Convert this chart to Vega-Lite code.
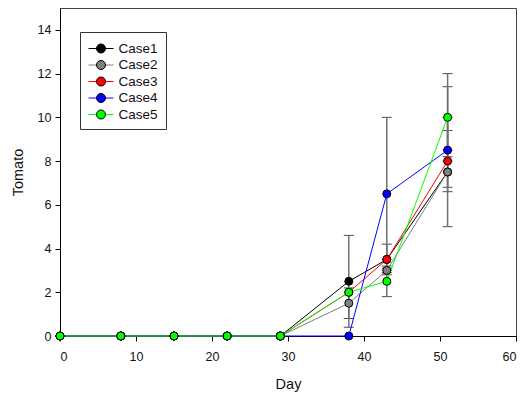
{
  "$schema": "https://vega.github.io/schema/vega-lite/v6.json",
  "width": 456,
  "height": 328,
  "autosize": {"type": "none"},
  "padding": {"left": 60, "top": 8, "right": 14, "bottom": 58},
  "config": {
    "font": "Liberation Sans",
    "view": {"stroke": "#444", "strokeWidth": 1},
    "axis": {
      "grid": false,
      "domainColor": "#000",
      "tickColor": "#000",
      "tickSize": 5,
      "labelFontSize": 12.5,
      "labelColor": "#111",
      "titleFontSize": 14.5,
      "titleFontWeight": "normal",
      "titleColor": "#111",
      "labelFont": "Liberation Sans",
      "titleFont": "Liberation Sans"
    }
  },
  "data": {
    "values": [
      {"day": 0, "case": "Case1", "value": 0},
      {"day": 8, "case": "Case1", "value": 0},
      {"day": 15, "case": "Case1", "value": 0},
      {"day": 22, "case": "Case1", "value": 0},
      {"day": 29, "case": "Case1", "value": 0},
      {"day": 38, "case": "Case1", "value": 2.5, "lo": 0.4, "hi": 4.6},
      {"day": 43, "case": "Case1", "value": 3.5, "lo": 2.8, "hi": 4.2},
      {"day": 51, "case": "Case1", "value": 7.5, "lo": 6.8, "hi": 8.2},
      {"day": 0, "case": "Case2", "value": 0},
      {"day": 8, "case": "Case2", "value": 0},
      {"day": 15, "case": "Case2", "value": 0},
      {"day": 22, "case": "Case2", "value": 0},
      {"day": 29, "case": "Case2", "value": 0},
      {"day": 38, "case": "Case2", "value": 1.5, "lo": 0.8, "hi": 2.2},
      {"day": 43, "case": "Case2", "value": 3.0, "lo": 2.9, "hi": 3.1},
      {"day": 51, "case": "Case2", "value": 7.5, "lo": 5.0, "hi": 10.0},
      {"day": 0, "case": "Case3", "value": 0},
      {"day": 8, "case": "Case3", "value": 0},
      {"day": 15, "case": "Case3", "value": 0},
      {"day": 22, "case": "Case3", "value": 0},
      {"day": 29, "case": "Case3", "value": 0},
      {"day": 38, "case": "Case3", "value": 2.0},
      {"day": 43, "case": "Case3", "value": 3.5},
      {"day": 51, "case": "Case3", "value": 8.0, "lo": 6.6, "hi": 9.4},
      {"day": 0, "case": "Case4", "value": 0},
      {"day": 8, "case": "Case4", "value": 0},
      {"day": 15, "case": "Case4", "value": 0},
      {"day": 22, "case": "Case4", "value": 0},
      {"day": 29, "case": "Case4", "value": 0},
      {"day": 38, "case": "Case4", "value": 0},
      {"day": 43, "case": "Case4", "value": 6.5, "lo": 3.0, "hi": 10.0},
      {"day": 51, "case": "Case4", "value": 8.5, "lo": 8.5, "hi": 11.4},
      {"day": 0, "case": "Case5", "value": 0},
      {"day": 8, "case": "Case5", "value": 0},
      {"day": 15, "case": "Case5", "value": 0},
      {"day": 22, "case": "Case5", "value": 0},
      {"day": 29, "case": "Case5", "value": 0},
      {"day": 38, "case": "Case5", "value": 2.0},
      {"day": 43, "case": "Case5", "value": 2.5, "lo": 1.8, "hi": 3.2},
      {"day": 51, "case": "Case5", "value": 10.0, "lo": 8.0, "hi": 12.0}
    ]
  },
  "encoding": {
    "x": {
      "field": "day",
      "type": "quantitative",
      "title": "Day",
      "scale": {"domain": [0, 60], "nice": false, "zero": false},
      "axis": {"values": [0, 10, 20, 30, 40, 50, 60], "labelPadding": 9, "titlePadding": 15}
    }
  },
  "layer": [
    {
      "transform": [{"filter": "isValid(datum.lo)"}],
      "mark": {
        "type": "errorbar",
        "ticks": {"size": 10, "color": "#000", "strokeWidth": 1.5},
        "rule": {"color": "#707070", "strokeWidth": 1.5}
      },
      "encoding": {
        "y": {"field": "lo", "type": "quantitative", "title": "Tomato",
          "scale": {"domain": [0, 15], "nice": false},
          "axis": {"values": [0, 2, 4, 6, 8, 10, 12, 14], "labelPadding": 4, "titlePadding": 12}},
        "y2": {"field": "hi"}
      }
    },
    {
      "mark": {"type": "line", "strokeWidth": 1},
      "encoding": {
        "y": {"field": "value", "type": "quantitative"},
        "stroke": {
          "field": "case",
          "type": "nominal",
          "scale": {"range": ["#000000", "#808080", "#ff0000", "#0000ff", "#00ff00"]},
          "legend": {
            "orient": "none",
            "legendX": 20,
            "legendY": 24,
            "title": null,
            "symbolType": "M-1.5625,0L1.5625,0",
            "symbolSize": 256,
            "symbolOffset": 4.5,
            "symbolStrokeWidth": 1,
            "labelFontSize": 13.5,
            "labelColor": "#111",
            "labelOffset": 9,
            "rowPadding": 1.5,
            "padding": 8,
            "strokeColor": "#333",
            "fillColor": "white"
          }
        }
      }
    },
    {
      "mark": {"type": "point", "filled": true, "shape": "circle", "size": 64, "stroke": "#000", "strokeWidth": 1, "opacity": 1},
      "encoding": {
        "y": {"field": "value", "type": "quantitative"},
        "fill": {
          "field": "case",
          "type": "nominal",
          "scale": {"domain": ["Case1", "Case2", "Case3", "Case4", "Case5"], "range": ["#000000", "#808080", "#ff0000", "#0000ff", "#00ff00"]},
          "legend": {
            "orient": "none",
            "legendX": 20,
            "legendY": 24,
            "title": null,
            "symbolType": "M0.5625,0A0.5625,0.5625 0 1 1 -0.5625,0A0.5625,0.5625 0 1 1 0.5625,0Z",
            "symbolSize": 256,
            "symbolOffset": 4.5,
            "symbolStrokeWidth": 1,
            "symbolStrokeColor": "#000",
            "labelFontSize": 13.5,
            "labelOpacity": 0,
            "labelOffset": 9,
            "rowPadding": 1.5,
            "padding": 8,
            "encode": {"symbols": {"update": {"stroke": {"value": "#000"}, "strokeWidth": {"value": 1}, "opacity": {"value": 1}}}}
          }
        }
      }
    }
  ]
}
